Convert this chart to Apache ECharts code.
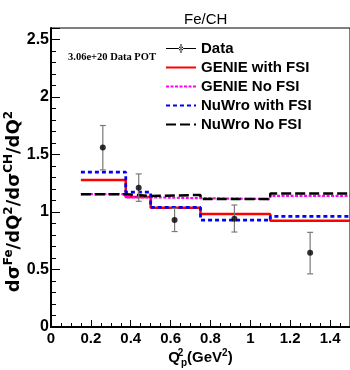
<!DOCTYPE html>
<html>
<head>
<meta charset="utf-8">
<script src="https://cdn.jsdelivr.net/npm/echarts@6/dist/echarts.min.js"></script>
<style>html,body{margin:0;padding:0;background:#fff;}#c{width:350px;height:370px;}</style>
</head>
<body>
<div id="c"></div>
<script>
// ---- data ----
const binEdges = [0.15, 0.375, 0.5, 0.75, 1.1, 1.5];
const genieFSI   = [1.279, 1.130, 1.038, 0.983, 0.925];
const genieNoFSI = [1.155, 1.128, 1.120, 1.112, 1.140];
const nuwroFSI   = [1.346, 1.172, 1.040, 0.930, 0.962];
const nuwroNoFSI = [1.155, 1.140, 1.148, 1.112, 1.160];
const dataX    = [0.26, 0.44, 0.62, 0.92, 1.30];
const dataY    = [1.56, 1.21, 0.93, 0.942, 0.645];
const dataLow  = [1.366, 1.093, 0.830, 0.826, 0.462];
const dataHigh = [1.752, 1.331, 1.032, 1.061, 0.823];
const xTicks = [0, 0.2, 0.4, 0.6, 0.8, 1, 1.2, 1.4];
const yTicks = [0, 0.5, 1, 1.5, 2, 2.5];
const seriesNames = ['Data', 'GENIE with FSI', 'GENIE No FSI', 'NuWro with FSI', 'NuWro No FSI'];

function histPoints(vals) {
  const pts = vals.map((v, i) => [binEdges[i], v]);
  pts.push([binEdges[binEdges.length - 1], vals[vals.length - 1]]);
  return pts;
}

const chart = echarts.init(document.getElementById('c'), null, {renderer: 'canvas'});
const font = 'Liberation Sans, Arial, sans-serif';

function histSeries(name, vals, color, type, width) {
  return {
    name: name, type: 'line', step: 'end', symbol: 'none',
    data: histPoints(vals),
    lineStyle: {color: color, width: width, type: type},
    itemStyle: {color: color},
    emphasis: {disabled: true}
  };
}

const option = {
  animation: false,
  backgroundColor: '#fff',
  title: [
    {text: 'Fe/CH', left: 179, top: 7,
     textStyle: {fontFamily: font, fontSize: 15, fontWeight: 'normal', color: '#000'}},
    {text: '3.06e+20 Data POT', left: 63, top: 47,
     textStyle: {fontFamily: 'Liberation Serif, Times New Roman, serif', fontSize: 10.5, fontWeight: 'bold', color: '#000'}}
  ],
  legend: {
    orient: 'vertical', left: 160, top: 36,
    itemWidth: 30, itemHeight: 14, itemGap: 4,
    itemStyle: {opacity: 0},
    textStyle: {fontFamily: font, fontSize: 15, fontWeight: 'bold', color: '#000'},
    data: [
      {name: 'Data', itemStyle: {opacity: 1, color: '#000'},
       icon: 'path://M0,6.5h30v1h-30z M14.5,2.5h1v9h-1z M12.8,7a2.2,2.2 0 1,0 4.4,0a2.2,2.2 0 1,0 -4.4,0z'},
      'GENIE with FSI', 'GENIE No FSI', 'NuWro with FSI', 'NuWro No FSI'
    ]
  },
  grid: {left: 51, right: 0, top: 28, bottom: 43, show: true, borderColor: '#000', borderWidth: 1, outerBoundsMode: 'none', containLabel: false},
  xAxis: {
    type: 'value', min: 0, max: 1.5, interval: 0.2,
    name: '{q|Q}{sup|2}{sub|p}{q|(GeV}{sup2|2}{q|)}',
    nameLocation: 'middle', nameGap: 21, nameMoveOverlap: false,
    nameTextStyle: {
      rich: {
        q: {fontFamily: font, fontSize: 15, fontWeight: 'bold', color: '#000', lineHeight: 20, verticalAlign: 'middle'},
        sup: {fontFamily: font, fontSize: 10, fontWeight: 'bold', color: '#000', lineHeight: 10, verticalAlign: 'top', width: 1},
        sub: {fontFamily: font, fontSize: 10, fontWeight: 'bold', color: '#000', lineHeight: 12, verticalAlign: 'bottom'},
        sup2: {fontFamily: font, fontSize: 10, fontWeight: 'bold', color: '#000', lineHeight: 10, verticalAlign: 'top'}
      }
    },
    axisLine: {lineStyle: {color: '#000', width: 2}},
    axisTick: {inside: true, length: 7, lineStyle: {color: '#000', width: 1}},
    minorTick: {show: true, splitNumber: 4, length: 4, lineStyle: {color: '#000', width: 1}},
    splitLine: {show: false},
    axisLabel: {
      fontFamily: font, fontSize: 15, fontWeight: 'bold', color: '#000', margin: 4,
      showMaxLabel: false,
      formatter: v => (xTicks.some(t => Math.abs(t - v) < 1e-9) ? String(+v.toFixed(1)) : '')
    }
  },
  yAxis: {
    type: 'value', min: 0, max: 2.6, interval: 0.5,
    name: '{t|dσ}{s|Fe}{t|/dQ}{s|2}{t|/dσ}{s|CH}{t|/dQ}{s|2}',
    nameLocation: 'middle', nameRotate: 90, nameGap: 26, nameMoveOverlap: false,
    nameTextStyle: {
      padding: [0, 48, 0, 0],
      rich: {
        t: {fontFamily: 'DejaVu Sans', fontSize: 18, fontWeight: 'bold', color: '#000', lineHeight: 22, verticalAlign: 'middle'},
        s: {fontFamily: 'DejaVu Sans', fontSize: 12, fontWeight: 'bold', color: '#000', lineHeight: 12, verticalAlign: 'top'}
      }
    },
    axisLine: {show: true, lineStyle: {color: '#000', width: 2}},
    axisTick: {inside: true, length: 9, lineStyle: {color: '#000', width: 1}},
    minorTick: {show: true, splitNumber: 5, length: 5, lineStyle: {color: '#000', width: 1}},
    splitLine: {show: false},
    axisLabel: {
      fontFamily: font, fontSize: 16, fontWeight: 'bold', color: '#000', margin: 2,
      showMaxLabel: false,
      formatter: v => (yTicks.some(t => Math.abs(t - v) < 1e-9) ? String(v) : '')
    }
  },
  series: [
    {
      name: 'Data', type: 'scatter', symbol: 'circle', symbolSize: 6,
      data: dataX.map((x, i) => [x, dataY[i]]),
      itemStyle: {color: '#000'}, z: 5,
      emphasis: {disabled: true}
    },
    {
      name: 'Data', type: 'custom', z: 4,
      data: dataX.map((x, i) => [x, dataLow[i], dataHigh[i]]),
      renderItem: function (params, api) {
        const x = api.value(0);
        const lo = api.coord([x, api.value(1)]);
        const hi = api.coord([x, api.value(2)]);
        const cap = 3;
        const st = {stroke: '#7a7a7a', lineWidth: 1.2};
        return {type: 'group', children: [
          {type: 'line', shape: {x1: lo[0], y1: lo[1], x2: hi[0], y2: hi[1]}, style: st},
          {type: 'line', shape: {x1: lo[0] - cap, y1: lo[1], x2: lo[0] + cap, y2: lo[1]}, style: st},
          {type: 'line', shape: {x1: hi[0] - cap, y1: hi[1], x2: hi[0] + cap, y2: hi[1]}, style: st}
        ]};
      },
      itemStyle: {color: '#000'}
    },
    histSeries('GENIE with FSI', genieFSI, '#ff0000', 'solid', 2.5),
    histSeries('GENIE No FSI', genieNoFSI, '#ff00ff', [3, 1.5], 2.2),
    histSeries('NuWro with FSI', nuwroFSI, '#0000ff', [4, 3], 2.8),
    histSeries('NuWro No FSI', nuwroNoFSI, '#000000', [10, 4], 2.5)
  ]
};
chart.setOption(option);
</script>
</body>
</html>
